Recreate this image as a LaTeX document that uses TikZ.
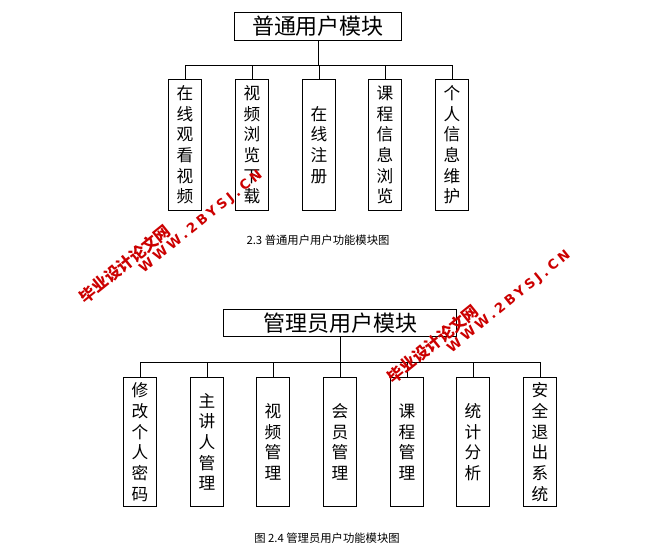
\documentclass[tikz,border=0pt]{standalone}
\usepackage{fontspec}
\setmainfont{Noto Sans CJK SC}
\newfontfamily\wmfont[LetterSpace=25]{DejaVu Sans}
\usetikzlibrary{positioning}

\tikzset{
  titlebox/.style={draw,semithick,inner sep=1pt,font=\fontsize{16.5}{18}\selectfont},
  itembox/.style={draw,semithick,inner sep=1pt,minimum width=25pt,align=center,font=\fontsize{12.5}{15.5}\selectfont},
  caption/.style={font=\fontsize{8.5}{10}\selectfont},
  watermark/.style={red!80!black,inner sep=0pt,rotate=39}
}

\begin{document}
\begin{tikzpicture}[x=0.75pt,y=-0.75pt]
\useasboundingbox (0,0) rectangle (662,548);

% upper chart
\node[titlebox,minimum width=125pt,minimum height=21pt] (user) at (318,26) {普通用户模块};
\node[itembox,minimum height=98pt] (u1) at (185,145) {在\\线\\观\\看\\视\\频};
\node[itembox,minimum height=98pt] (u2) at (252,145) {视\\频\\浏\\览\\下\\载};
\node[itembox,minimum height=98pt] (u3) at (319,145) {在\\线\\注\\册};
\node[itembox,minimum height=98pt] (u4) at (385,145) {课\\程\\信\\息\\浏\\览};
\node[itembox,minimum height=98pt] (u5) at (452,145) {个\\人\\信\\息\\维\\护};
\coordinate (ubus) at (318,65);
\draw[semithick] (user.south) -- (ubus);
\draw[semithick] (u1.north) |- (u5.north |- ubus) -- (u5.north);
\foreach \n in {u2,u3,u4} \draw[semithick] (\n.north) -- (\n.north |- ubus);
\node[caption] (cap1) at (318,240) {2.3 普通用户用户功能模块图};

% lower chart
\node[titlebox,minimum width=175pt,minimum height=20pt] (admin) at (340,323) {管理员用户模块};
\foreach \n/\x/\t in {a1/140/修\\改\\个\\人\\密\\码, a2/207/主\\讲\\人\\管\\理, a3/273/视\\频\\管\\理,
  a4/340/会\\员\\管\\理, a5/407/课\\程\\管\\理, a6/473/统\\计\\分\\析, a7/540/安\\全\\退\\出\\系\\统}
  \node[itembox,minimum height=97pt] (\n) at (\x,442) {\t};
\coordinate (abus) at (340,362);
\draw[semithick] (admin.south) -- (abus);
\draw[semithick] (a1.north) |- (a7.north |- abus) -- (a7.north);
\foreach \n in {a2,a3,a4,a5,a6} \draw[semithick] (\n.north) -- (\n.north |- abus);
\node[caption] (cap2) at (327,538) {图 2.4 管理员用户功能模块图};

% watermarks
\foreach \dx/\dy [count=\i] in {0/0,308/80} {
  \node[watermark,font=\bfseries\fontsize{12}{12}\selectfont] (markcn\i) at (125+\dx,264+\dy) {毕业设计论文网};
  \node[watermark,font=\wmfont\bfseries\fontsize{10}{10}\selectfont] (markw\i) at (201+\dx,222+\dy) {WWW.2BYSJ.CN};
}
\end{tikzpicture}
\end{document}
